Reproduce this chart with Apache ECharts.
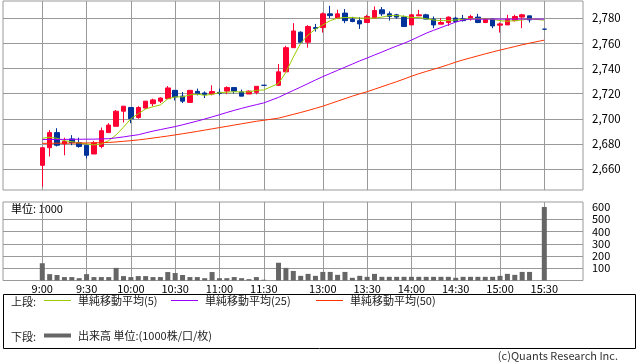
<!DOCTYPE html>
<html><head><meta charset="utf-8">
<script src="https://cdn.jsdelivr.net/npm/echarts@6/dist/echarts.min.js"></script>
<style>html,body{margin:0;padding:0;background:#fff}#c{width:638px;height:362px}</style>
</head><body><div id="c"></div>
<script>
// 5-minute slots (index = position on the time axis); '' = lunch break slot
const times = ['9:00','9:05','9:10','9:15','9:20','9:25','9:30','9:35','9:40','9:45','9:50','9:55',
  '10:00','10:05','10:10','10:15','10:20','10:25','10:30','10:35','10:40','10:45','10:50','10:55',
  '11:00','11:05','11:10','11:15','11:20','11:25','11:30','',
  '12:30','12:35','12:40','12:45','12:50','12:55','13:00','13:05','13:10','13:15','13:20','13:25',
  '13:30','13:35','13:40','13:45','13:50','13:55','14:00','14:05','14:10','14:15','14:20','14:25',
  '14:30','14:35','14:40','14:45','14:50','14:55','15:00','15:05','15:10','15:15','15:20','15:25','15:30'];
const tickTimes = ['9:00','9:30','10:00','10:30','11:00','11:30','13:00','13:30','14:00','14:30','15:00','15:30'];
const priceTicks = [2660,2680,2700,2720,2740,2760,2780];
const volTicks = [100,200,300,400,500,600];

const openP = [2663,2677,2689,2680,2684,2681,2679,2672,2678,2689,2694,2706,2709,2701,2708.5,2712,2714,2716,2722.6,2718,
  2713,2721.8,2720.5,2719.7,2721,2722,2724.8,2721.3,2719.7,2721,2726.6,null,
  2726.6,2737.3,2756.5,2768.8,2760.8,2772.5,2772.5,2783.4,2780,2784,2779.2,2778,2776.5,2780,2786.6,2783.4,2782.6,2780.8,
  2774.6,2781.8,2782.6,2779.2,2775.2,2776.5,2780,2779.4,2779.4,2780.8,2776.5,2779.2,2774.4,2774.6,2778,2780.8,2781.8,null,2771.2];
const closeP = [2677,2689,2679,2682,2681,2678,2671,2681,2690.5,2695,2706,2710,2700,2709,2714,2715,2716.5,2724.5,2717.3,2714,
  2722.6,2720,2719.2,2721.6,2720.2,2724.8,2722,2718,2722,2725.8,2726.6,null,
  2737.3,2756.5,2769.8,2760.8,2773.3,2771.7,2783.4,2782,2783.4,2778,2777.3,2775.4,2781.3,2786,2783.4,2781.3,2780.8,2773.3,
  2782.6,2782.6,2779.2,2774.6,2776.5,2780.8,2777.3,2778,2781.3,2776.5,2779.2,2773.8,2775.4,2779.2,2781.3,2782.6,2778.6,null,2771.2];
const lowP = [2646,2670,2678,2671,2679,2677,2668.5,2672,2676.5,2689,2694,2697,2696.5,2700,2708,2710,2712.5,2715.7,2714.6,2712.5,
  2713,2718.6,2716.5,2718.6,2718.6,2719.5,2720,2718,2719.7,2719.4,2726.6,null,
  2726,2737.3,2756.5,2760,2756.5,2769.3,2768.5,2780,2780,2776,2776.7,2771.4,2776.5,2780,2781.8,2778,2779.5,2773.3,
  2774.6,2781.8,2779,2772,2775.2,2773.8,2776.7,2777.3,2778,2776,2776,2772,2768.5,2774.6,2777.3,2772,2776.5,null,2771.2];
const highP = [2677,2691,2692.5,2685,2687,2685,2679,2682.5,2693,2696.5,2707,2710,2709,2710,2714,2716,2717,2726,2722.6,2721.3,
  2722.6,2724,2721.8,2726.6,2724,2725.8,2724.8,2723.2,2722.5,2725.8,2726.6,null,
  2743.5,2758,2776,2769.5,2774.4,2775.4,2784.5,2789.8,2786.6,2787.2,2781,2780.8,2782.6,2789.3,2788.8,2785.3,2783.4,2782,
  2783,2786.6,2783.5,2781.3,2780,2781.3,2781,2782.6,2782.6,2783.4,2780,2779.5,2776.5,2782.6,2782.6,2783.4,2781.8,null,2771.2];

const volume = [141,52,45,28,28,19,52,28,28,28,103,36,28,36,36,28,28,69,61,45,28,28,19,69,19,19,28,19,11,28,6,null,
  145,103,78,38,54,38,70,70,46,70,22,38,30,54,30,30,30,30,30,30,30,30,30,30,22,30,30,30,30,30,38,54,46,70,70,null,600];

const ma5 = [2684.5,2685.3,2684.5,2682.6,2681.8,2680.8,2680,2679.2,2680,2682.6,2687.2,2693.3,2700,2704,2707.8,2709.6,2711,2715.8,2717.4,2717.4,
  2719,2719.6,2718.6,2719.5,2720.7,2721.1,2721.5,2721.3,2721.4,2722.6,2722.9,null,
  2728,2737,2749,2760,2766.6,2771.2,2774.6,2778,2780,2780.5,2780.5,2780,2780,2780,2780.8,2782,2782,2781.5,
  2780.5,2780.5,2779.5,2778.5,2778,2778,2778.5,2779,2779.5,2779.5,2779.5,2779,2778,2777.5,2778,2778.5,2779.5,null,2778.3];
const ma25 = [2683.5,2683.5,2683.6,2683.6,2683.7,2683.7,2683.8,2683.8,2684,2684.2,2684.8,2685.6,2686.5,2687.3,2688.8,2690.2,2691.4,2692.6,2693.8,2695.2,
  2696.7,2698.2,2699.8,2701.5,2703.2,2705,2706.7,2708.3,2709.8,2711.2,2712.6,null,
  2717,2719.8,2722.5,2725.2,2728,2730.8,2733.5,2736,2738.5,2741,2743.5,2746,2748.3,2750.7,2753,2755.5,2757.8,2760,
  2762.5,2765.3,2768,2770.3,2772.5,2774.7,2776.8,2778.5,2779.2,2779.2,2779.2,2779.2,2779.2,2779.2,2779.2,2779.2,2779.2,null,2779.2];
const ma50 = [2680.5,2680.5,2680.6,2680.6,2680.7,2680.8,2680.8,2680.9,2681,2681.2,2681.6,2682.1,2682.6,2683.2,2683.9,2684.7,2685.5,2686.3,2687.2,2688.1,
  2689,2690,2691,2692,2693,2694,2695,2696,2697,2698,2698.8,null,
  2700.5,2702,2703.5,2705,2706.6,2708.3,2710,2712,2714,2716,2718,2719.8,2721.5,2723.5,2725.5,2727.5,2729.5,2731.6,
  2733.8,2735.8,2737.6,2739.3,2741.1,2743,2745,2746.8,2748.4,2750,2751.6,2753.1,2754.6,2756,2757.4,2758.8,2760.1,null,2762.5];

const UP = '#ff0033', DOWN = '#003399', GRID = '#999999';
const FONT = '"Noto Sans CJK JP", sans-serif';
const idx = times.map((t, i) => i);
const tickSlots = tickTimes.map(t => times.indexOf(t));
const candleData = idx.filter(i => openP[i] != null).map(i => [i, openP[i], closeP[i], lowP[i], highP[i]]);
const line = arr => idx.map(i => [i, arr[i]]);
const fmtNum = v => String(v).replace(/\B(?=(\d{3})+(?!\d))/g, ',');

const xCommon = (gi, showLabel) => ({
  type: 'value', gridIndex: gi, min: -5.32, max: 73.24,
  axisLine: { show: false },
  axisTick: { show: false, customValues: tickSlots },
  axisLabel: { show: showLabel, customValues: tickSlots, formatter: v => times[v], color: '#000', fontSize: 11, fontFamily: FONT, margin: 3 },
  splitLine: { show: true, lineStyle: { color: GRID, width: 1 } }
});
const legendBase = (name, left, top, h) => ({
  data: [name], left: left, top: top, padding: 0, icon: 'rect', itemWidth: 27, itemHeight: h,
  selectedMode: false, textStyle: { fontSize: 11, color: '#222', fontFamily: FONT, padding: [0, 0, 0, 2] }
});

const chart = echarts.init(document.getElementById('c'), null, { renderer: 'canvas' });
chart.setOption({
  animation: false,
  backgroundColor: '#fff',
  textStyle: { fontFamily: FONT },
  grid: [
    { left: 3, right: 55, top: 1, height: 189, show: true, borderColor: GRID, borderWidth: 1, backgroundColor: '#fff' },
    { left: 3, right: 55, top: 202, height: 78.5, show: true, borderColor: GRID, borderWidth: 1, backgroundColor: '#fff' }
  ],
  xAxis: [xCommon(0, false), xCommon(1, true)],
  yAxis: [
    { type: 'value', gridIndex: 0, position: 'right', min: 2643.4, max: 2793.6,
      axisLine: { show: false },
      axisTick: { show: true, length: 5, customValues: priceTicks, lineStyle: { color: GRID } },
      axisLabel: { customValues: priceTicks, formatter: fmtNum, color: '#000', fontSize: 11.5, fontFamily: FONT, margin: 9 },
      splitLine: { show: true, lineStyle: { color: GRID } } },
    { type: 'value', gridIndex: 1, position: 'right', min: 0, max: 641,
      axisLine: { show: false },
      axisTick: { show: true, length: 5, customValues: volTicks, lineStyle: { color: GRID } },
      axisLabel: { customValues: volTicks, color: '#000', fontSize: 11, fontFamily: FONT, margin: 9 },
      splitLine: { show: true, lineStyle: { color: [GRID, GRID, GRID, GRID, GRID, 'rgba(0,0,0,0)'] } } }
  ],
  legend: [
    legendBase('単純移動平均(5)', 44, 295, 1),
    legendBase('単純移動平均(25)', 171, 295, 1),
    legendBase('単純移動平均(50)', 316, 295, 1),
    legendBase('出来高 単位:(1000株/口/枚)', 44, 330, 4)
  ],
  graphic: [
    { type: 'rect', shape: { x: 3.5, y: 294.5, width: 632, height: 54 }, style: { fill: 'none', stroke: '#000', lineWidth: 1 }, silent: true },
    { type: 'text', x: 11, y: 302, style: { text: '上段:', fill: '#222', font: '11px ' + FONT, verticalAlign: 'middle' } },
    { type: 'text', x: 11, y: 337, style: { text: '下段:', fill: '#222', font: '11px ' + FONT, verticalAlign: 'middle' } },
    { type: 'text', x: 11, y: 209, style: { text: '単位: 1000', fill: '#000', font: '11px ' + FONT, verticalAlign: 'middle' } },
    { type: 'text', x: 618, y: 356, style: { text: '(c)Quants Research Inc.', fill: '#333', font: '11px ' + FONT, align: 'right', verticalAlign: 'middle' } }
  ],
  series: [
    { name: 'price', type: 'candlestick', xAxisIndex: 0, yAxisIndex: 0, barWidth: 5,
      dimensions: ['t', 'open', 'close', 'lowest', 'highest'],
      encode: { x: 't', y: ['open', 'close', 'lowest', 'highest'] },
      itemStyle: { color: UP, color0: DOWN, borderColor: UP, borderColor0: DOWN, borderColorDoji: DOWN, borderWidth: 1 },
      data: candleData },
    { name: '単純移動平均(5)', type: 'line', xAxisIndex: 0, yAxisIndex: 0, data: line(ma5), color: '#99cc00',
      symbol: 'none', connectNulls: true, lineStyle: { width: 1, color: '#99cc00' } },
    { name: '単純移動平均(25)', type: 'line', xAxisIndex: 0, yAxisIndex: 0, data: line(ma25), color: '#9900ff',
      symbol: 'none', connectNulls: true, lineStyle: { width: 1, color: '#9900ff' } },
    { name: '単純移動平均(50)', type: 'line', xAxisIndex: 0, yAxisIndex: 0, data: line(ma50), color: '#ff3300',
      symbol: 'none', connectNulls: true, lineStyle: { width: 1, color: '#ff3300' } },
    { name: '出来高 単位:(1000株/口/枚)', type: 'bar', xAxisIndex: 1, yAxisIndex: 1, barWidth: 5,
      data: line(volume), color: '#666666', itemStyle: { color: '#666666' } }
  ]
});
</script></body></html>
